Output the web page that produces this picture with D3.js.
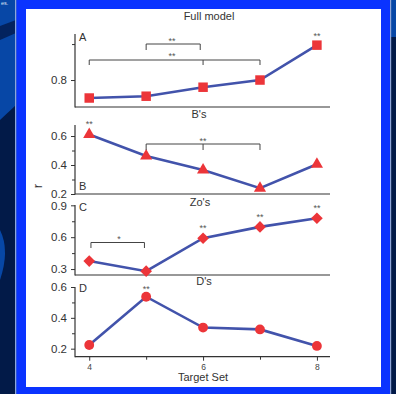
<!DOCTYPE html>
<html><head><meta charset="utf-8">
<script src="https://cdn.jsdelivr.net/npm/d3@7"></script>
<style>html,body{margin:0;padding:0;background:#0747a6;}svg{display:block;}</style>
</head><body>
<svg id="c" width="396" height="394"></svg>
<script>
const targetSets = [4, 5, 6, 7, 8];
const fullModel = [0.75, 0.755, 0.78, 0.80, 0.897];
const bValues = [0.61, 0.462, 0.366, 0.24, 0.405];
const zoValues = [0.375, 0.28, 0.59, 0.697, 0.778];
const dValues = [0.224, 0.537, 0.337, 0.325, 0.218];
const panelTitles = ["Full model", "B's", "Zo's", "D's"];
const panelLetters = ["A", "B", "C", "D"];
const xTickLabels = ["4", "6", "8"];

const svg = d3.select("#c");
const FONT = "Liberation Sans, Arial, sans-serif";

// background slide
svg.append("rect").attr("width",396).attr("height",394).attr("fill","#0747a6");
svg.append("path").attr("d","M0,26 L16,20 L16,33 L0,40 Z").attr("fill","#03235e");
svg.append("path").attr("d","M0,120 L16,105 L16,394 L0,394 Z").attr("fill","#021a48");
svg.append("path").attr("d","M0,230 Q10,250 0,280 Z").attr("fill","#0747a6");
svg.append("path").attr("d","M391,37 L396,37 L396,394 L391,394 Z").attr("fill","#021a48");
svg.append("rect").attr("x",15).attr("y",0).attr("width",1.5).attr("height",394).attr("fill","#8fa6d8");
svg.append("rect").attr("x",390).attr("y",0).attr("width",1.2).attr("height",394).attr("fill","#8fa6d8");
svg.append("rect").attr("x",16.5).attr("y",0).attr("width",373.5).attr("height",394).attr("fill","#0a33ff");
svg.append("rect").attr("x",26).attr("y",9).attr("width",355).attr("height",378).attr("fill","#ffffff");
svg.append("text").attr("x",1).attr("y",4.5).attr("font-family",FONT).attr("font-size",5.5)
  .attr("fill","#dfe6f5").text("es.");

const x = d3.scaleLinear().domain([3.75, 8.23]).range([75, 330]);

const panels = [
  {vals: fullModel, dom:[0.725,0.928], rng:[107,34], major:[0.8], minor:[0.9], fmt:d3.format(".1f"), sym:"square"},
  {vals: bValues, dom:[0.2,0.676], rng:[194,125], major:[0.2,0.4,0.6], minor:[0.3,0.5], fmt:d3.format(".1f"), sym:"triangle"},
  {vals: zoValues, dom:[0.244,0.903], rng:[275,205], major:[0.3,0.6,0.9], minor:[0.45,0.75], fmt:d3.format(".1f"), sym:"diamond"},
  {vals: dValues, dom:[0.148,0.6], rng:[356.7,287], major:[0.2,0.4,0.6], minor:[0.3,0.5], fmt:d3.format(".1f"), sym:"circle"}
];
const titleY = [20, 118, 206, 285];
const letterY = [41, 190, 211, 292];
const titleX = [209, 199, 200, 204];

panels.forEach((p, i) => {
  const y = d3.scaleLinear().domain(p.dom).range(p.rng);
  p.y = y;
  const g = svg.append("g");
  const ay = g.append("g").attr("transform","translate(75,0)")
    .call(d3.axisLeft(y).tickValues(p.major).tickFormat(p.fmt).tickSize(4).tickSizeOuter(0));
  ay.select(".domain").remove();
  ay.selectAll("line").attr("stroke","#333");
  ay.selectAll("text").attr("font-family",FONT).attr("font-size",11.5).attr("fill","#333").attr("dx","-1");
  const am = g.append("g").attr("transform","translate(75,0)")
    .call(d3.axisLeft(y).tickValues(p.minor).tickFormat("").tickSize(3).tickSizeOuter(0));
  am.select(".domain").remove();
  am.selectAll("line").attr("stroke","#333");
  g.append("line").attr("x1",75).attr("x2",75).attr("y1",p.rng[1]).attr("y2",p.rng[0]+0.5)
    .attr("stroke","#333").attr("stroke-width",1.2);
  g.append("line").attr("x1",75).attr("x2",330).attr("y1",p.rng[0]).attr("y2",p.rng[0])
    .attr("stroke","#333").attr("stroke-width",1.2);
  g.append("text").attr("x", titleX[i]).attr("y",titleY[i])
    .attr("text-anchor","middle").attr("font-family",FONT).attr("font-size",11).attr("fill","#333")
    .text(panelTitles[i]);
  g.append("text").attr("x",79).attr("y",letterY[i]).attr("font-family",FONT).attr("font-size",11)
    .attr("fill","#333").text(panelLetters[i]);
  const line = d3.line().x((d,j)=>x(targetSets[j])).y(d=>y(d));
  g.append("path").datum(p.vals).attr("d",line).attr("fill","none")
    .attr("stroke","#4253ab").attr("stroke-width",2.6);
  let symType, size, rot = 0;
  if (p.sym==="square") { symType=d3.symbolSquare; size=90; }
  else if (p.sym==="triangle") { symType=d3.symbolTriangle; size=64; }
  else if (p.sym==="diamond") { symType=d3.symbolSquare; size=68; rot=45; }
  else { symType=d3.symbolCircle; size=76; }
  g.selectAll(".m").data(p.vals).enter().append("path")
    .attr("d", d3.symbol().type(symType).size(size))
    .attr("transform",(d,j)=>`translate(${x(targetSets[j])},${y(d)}) rotate(${rot})`)
    .attr("fill","#ec3539");
});

// x axis for bottom panel
const ax = svg.append("g").attr("transform","translate(0,356.7)")
  .call(d3.axisBottom(x).tickValues([4,6,8]).tickFormat((d,i)=>xTickLabels[i]).tickSize(4).tickSizeOuter(0));
ax.select(".domain").remove();
ax.selectAll("line").attr("stroke","#333");
ax.selectAll("text").attr("font-family",FONT).attr("font-size",8.5).attr("fill","#444")
  .attr("y",13.3).attr("dy",0);
const axm = svg.append("g").attr("transform","translate(0,356.7)")
  .call(d3.axisBottom(x).tickValues([5,7]).tickFormat("").tickSize(3).tickSizeOuter(0));
axm.select(".domain").remove();
axm.selectAll("line").attr("stroke","#333");
svg.append("text").attr("x",203).attr("y",381).attr("text-anchor","middle")
  .attr("font-family",FONT).attr("font-size",11).attr("fill","#333").text("Target Set");
svg.append("text").attr("transform","translate(42,186) rotate(-90)").attr("text-anchor","middle")
  .attr("font-family",FONT).attr("font-size",13).attr("fill","#333").text("r");

// significance brackets
function bracket(x1, x2, yTop, yBot, mid, label, lx, ly) {
  const g = svg.append("g").attr("stroke","#444").attr("stroke-width",1).attr("fill","none");
  g.append("path").attr("d",`M${x1},${yBot} V${yTop} H${x2} V${yBot}`);
  if (mid!==null) g.append("path").attr("d",`M${mid},${yTop} V${yBot}`);
  svg.append("text").attr("x",lx).attr("y",ly).attr("text-anchor","middle")
    .attr("font-family",FONT).attr("font-size",9).attr("fill","#555").text(label);
}
function star(px, py, label) {
  svg.append("text").attr("x",px).attr("y",py).attr("text-anchor","middle")
    .attr("font-family",FONT).attr("font-size",9).attr("fill","#555").text(label);
}
const yA = panels[0].y, yB = panels[1].y, yC = panels[2].y, yD = panels[3].y;
bracket(x(5), x(5.95), 44, 50, null, "**", 172, 44);
bracket(x(4), x(7), 60, 65, x(6), "**", 172, 59);
star(x(8), yA(fullModel[4]) - 6, "**");
star(x(4), yB(bValues[0]) - 8, "**");
bracket(x(5), x(7), 144, 150, x(6), "**", x(6), 144);
bracket(x(4.03), x(4.97), 242.5, 248, null, "*", 119, 242);
star(x(6), yC(zoValues[2]) - 7, "**");
star(x(7), yC(zoValues[3]) - 7, "**");
star(x(8), yC(zoValues[4]) - 7, "**");
star(x(5), yD(dValues[1]) - 5, "**");
</script>
</body></html>
